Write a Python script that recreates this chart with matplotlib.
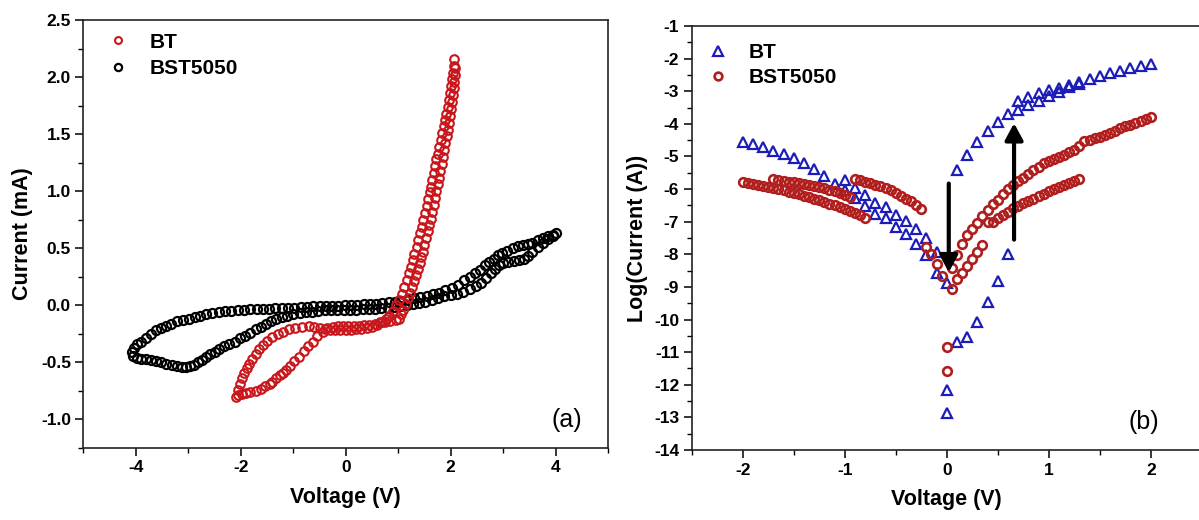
import numpy as np
import matplotlib
matplotlib.use("Agg")
import matplotlib.pyplot as plt
from matplotlib.ticker import MultipleLocator, FormatStrFormatter

plt.rcParams['font.family'] = ['Liberation Sans', 'DejaVu Sans']
plt.rcParams['axes.unicode_minus'] = False

# ---------------- panel (a): I-V loops, current in mA ----------------
# BT: lobe upper branch + flat part
bt_up_v = [-2.09, -2.05, -2.01, -1.97, -1.93, -1.89, -1.84, -1.78, -1.72, -1.65, -1.58, -1.50,
           -1.40, -1.30, -1.20, -1.08, -0.96, -0.84, -0.70, -0.60, -0.50, -0.40, -0.30, -0.20,
           -0.10, 0.00, 0.10, 0.20, 0.30, 0.40, 0.50, 0.60, 0.70, 0.77, 0.83]
bt_up_i = [-0.80, -0.74, -0.69, -0.64, -0.59, -0.55, -0.51, -0.47, -0.43, -0.38, -0.35, -0.31,
           -0.28, -0.25, -0.23, -0.21, -0.20, -0.19, -0.18, -0.19, -0.20, -0.21, -0.22, -0.22,
           -0.22, -0.22, -0.22, -0.21, -0.21, -0.20, -0.19, -0.17, -0.15, -0.12, -0.09]
# BT: lobe lower branch + flat part
bt_low_v = [-2.05, -1.98, -1.90, -1.82, -1.71, -1.62, -1.53, -1.45, -1.40, -1.33, -1.26, -1.20,
            -1.14, -1.06, -0.98, -0.89, -0.80, -0.72, -0.63, -0.54, -0.44, -0.35, -0.25, -0.15,
            -0.05, 0.05, 0.15, 0.25, 0.35, 0.45, 0.55, 0.65, 0.75, 0.85, 0.95]
bt_low_i = [-0.79, -0.78, -0.77, -0.76, -0.75, -0.73, -0.71, -0.69, -0.67, -0.64, -0.61, -0.59,
            -0.57, -0.53, -0.49, -0.45, -0.40, -0.36, -0.32, -0.27, -0.23, -0.20, -0.19, -0.18,
            -0.18, -0.18, -0.18, -0.18, -0.17, -0.17, -0.16, -0.15, -0.15, -0.14, -0.13]
# BT: rising branches at positive bias
bt_rise1_v = [0.90, 0.96, 1.02, 1.07, 1.12, 1.16, 1.20, 1.24, 1.28, 1.31, 1.35, 1.38, 1.42,
              1.45, 1.48, 1.51, 1.54, 1.57, 1.60, 1.63, 1.65, 1.68, 1.70, 1.73, 1.75, 1.78,
              1.81, 1.84, 1.87, 1.90, 1.92, 1.95, 1.97, 1.99, 2.01, 2.03, 2.04, 2.06, 2.07]
bt_rise1_i = [-0.05, 0.00, 0.05, 0.10, 0.16, 0.22, 0.28, 0.34, 0.40, 0.45, 0.51, 0.57, 0.63,
              0.69, 0.75, 0.81, 0.87, 0.93, 0.99, 1.04, 1.10, 1.16, 1.22, 1.28, 1.33, 1.39,
              1.45, 1.51, 1.57, 1.62, 1.68, 1.74, 1.80, 1.86, 1.92, 1.98, 2.04, 2.10, 2.16]
bt_rise2_v = [1.02, 1.06, 1.10, 1.14, 1.18, 1.22, 1.26, 1.30, 1.34, 1.38, 1.41, 1.44, 1.47,
              1.50, 1.53, 1.56, 1.59, 1.62, 1.65, 1.68, 1.70, 1.73, 1.75, 1.78, 1.80, 1.83,
              1.85, 1.88, 1.90, 1.93, 1.95, 1.97, 1.99, 2.01, 2.03, 2.05, 2.06, 2.07, 2.08, 2.09]
bt_rise2_i = [-0.12, -0.08, -0.04, 0.01, 0.06, 0.11, 0.16, 0.21, 0.27, 0.32, 0.37, 0.42, 0.47,
              0.53, 0.59, 0.65, 0.70, 0.76, 0.82, 0.88, 0.94, 1.00, 1.06, 1.12, 1.18, 1.24,
              1.30, 1.36, 1.42, 1.48, 1.54, 1.60, 1.66, 1.72, 1.78, 1.84, 1.90, 1.96, 2.02, 2.08]

# BST5050 loop
bst_top_v = [-4.07, -4.03, -3.98, -3.90, -3.81, -3.72, -3.62, -3.52, -3.43, -3.33, -3.22, -3.10,
             -2.99, -2.88, -2.77, -2.66, -2.54, -2.42, -2.30, -2.18, -2.06, -1.94, -1.82, -1.70,
             -1.58, -1.46, -1.34, -1.22, -1.10, -0.98, -0.86, -0.74, -0.62, -0.50, -0.38, -0.26,
             -0.14, -0.02, 0.10, 0.22, 0.34, 0.46, 0.58, 0.70, 0.82, 0.94, 1.06, 1.18]
bst_top_i = [-0.41, -0.37, -0.34, -0.32, -0.29, -0.25, -0.22, -0.20, -0.18, -0.16, -0.14, -0.13,
             -0.12, -0.10, -0.09, -0.08, -0.07, -0.06, -0.05, -0.05, -0.04, -0.04, -0.035, -0.03,
             -0.03, -0.03, -0.025, -0.02, -0.02, -0.02, -0.015, -0.015, -0.01, -0.01, -0.01, -0.01,
             -0.005, 0.0, 0.0, 0.005, 0.01, 0.01, 0.015, 0.02, 0.025, 0.03, 0.04, 0.05]
bst_bot_v = [-4.05, -3.98, -3.90, -3.81, -3.72, -3.62, -3.52, -3.42, -3.32, -3.22, -3.12, -3.04,
             -2.97, -2.90, -2.82, -2.74, -2.66, -2.58, -2.50, -2.41, -2.32, -2.22, -2.12, -2.02,
             -1.92, -1.82, -1.72, -1.62, -1.52, -1.42, -1.32, -1.22, -1.12, -1.00, -0.88, -0.76,
             -0.64, -0.52, -0.40, -0.28, -0.16, -0.04, 0.08, 0.20, 0.32, 0.44, 0.56, 0.68,
             0.80, 0.92, 1.04, 1.16]
bst_bot_i = [-0.44, -0.46, -0.47, -0.47, -0.48, -0.49, -0.50, -0.51, -0.52, -0.53, -0.54, -0.54,
             -0.53, -0.52, -0.50, -0.48, -0.45, -0.43, -0.41, -0.38, -0.36, -0.34, -0.32, -0.29,
             -0.27, -0.24, -0.21, -0.19, -0.16, -0.14, -0.12, -0.10, -0.09, -0.08, -0.07, -0.06,
             -0.055, -0.05, -0.045, -0.04, -0.04, -0.04, -0.04, -0.04, -0.035, -0.03, -0.03, -0.025,
             -0.02, -0.015, -0.01, 0.0]
bst_hi_v = [1.30, 1.42, 1.54, 1.66, 1.78, 1.90, 2.02, 2.14, 2.26, 2.36, 2.46, 2.56, 2.66, 2.74,
            2.82, 2.90, 2.98, 3.08, 3.18, 3.28, 3.38, 3.48, 3.56, 3.66, 3.76, 3.86, 3.96, 4.01]
bst_hi_i = [0.06, 0.07, 0.08, 0.10, 0.11, 0.13, 0.15, 0.18, 0.22, 0.25, 0.28, 0.31, 0.35, 0.38,
            0.41, 0.44, 0.46, 0.48, 0.50, 0.52, 0.53, 0.54, 0.55, 0.57, 0.59, 0.61, 0.62, 0.63]
bst_lo_v = [1.28, 1.40, 1.52, 1.64, 1.76, 1.88, 2.00, 2.12, 2.24, 2.36, 2.48, 2.58, 2.68, 2.76,
            2.84, 2.92, 3.00, 3.10, 3.20, 3.30, 3.40, 3.48, 3.56, 3.66, 3.76, 3.86, 3.96]
bst_lo_i = [0.01, 0.02, 0.03, 0.05, 0.06, 0.08, 0.09, 0.10, 0.12, 0.14, 0.17, 0.20, 0.24, 0.28,
            0.32, 0.35, 0.37, 0.38, 0.39, 0.40, 0.41, 0.43, 0.47, 0.51, 0.55, 0.58, 0.61]

# ---------------- panel (b): log(current) vs voltage ----------------
btl_out_v = [-2.0, -1.9, -1.8, -1.7, -1.6, -1.5, -1.4, -1.3, -1.2, -1.1, -1.0]
btl_out_l = [-4.55, -4.62, -4.71, -4.83, -4.92, -5.05, -5.19, -5.37, -5.59, -5.83, -5.72]
btl_a_v = [-1.0, -0.9, -0.8, -0.7, -0.6, -0.5, -0.4, -0.3, -0.2, -0.1, 0.0]
btl_a_l = [-6.02, -5.98, -6.18, -6.42, -6.56, -6.80, -6.98, -7.21, -7.51, -7.92, -8.87]
btl_b_v = [-0.9, -0.8, -0.7, -0.6, -0.5, -0.4, -0.3, -0.2, -0.1]
btl_b_l = [-6.26, -6.52, -6.75, -6.90, -7.15, -7.38, -7.69, -8.02, -8.56]
btl_lo_v = [0.0, 0.0, 0.1, 0.2, 0.3, 0.4, 0.5, 0.6]
btl_lo_l = [-12.15, -12.88, -10.68, -10.53, -10.07, -9.46, -8.81, -7.99]
btl_hi_v = [0.1, 0.2, 0.3, 0.4, 0.5, 0.6, 0.7, 0.8, 0.9, 1.0, 1.1, 1.2, 1.3, 1.4, 1.5, 1.6,
            1.7, 1.8, 1.9, 2.0]
btl_hi_l = [-5.42, -4.96, -4.55, -4.21, -3.95, -3.70, -3.30, -3.19, -3.06, -2.96, -2.89, -2.80,
            -2.72, -2.63, -2.53, -2.45, -2.37, -2.29, -2.22, -2.15]
btl_mid_v = [0.7, 0.8, 0.9, 1.0, 1.1, 1.2, 1.3]
btl_mid_l = [-3.58, -3.42, -3.29, -3.15, -3.01, -2.88, -2.78]

bstl_n1_v = [-2.00, -1.95, -1.90, -1.85, -1.80, -1.75, -1.70, -1.65, -1.60, -1.55, -1.50, -1.45,
             -1.40, -1.35, -1.30, -1.25, -1.20, -1.15, -1.10, -1.05, -1.00, -0.95, -0.90, -0.85,
             -0.80]
bstl_n1_l = [-5.78, -5.81, -5.84, -5.87, -5.90, -5.93, -5.97, -6.00, -6.04, -6.08, -6.12, -6.16,
             -6.21, -6.25, -6.30, -6.35, -6.40, -6.45, -6.50, -6.55, -6.61, -6.67, -6.74, -6.81,
             -6.88]
bstl_n2_v = [-1.70, -1.65, -1.60, -1.55, -1.50, -1.45, -1.40, -1.35, -1.30, -1.25, -1.20, -1.15,
             -1.10, -1.05, -1.00, -0.95]
bstl_n2_l = [-5.69, -5.72, -5.74, -5.77, -5.79, -5.82, -5.85, -5.88, -5.91, -5.94, -5.98, -6.02,
             -6.06, -6.11, -6.17, -6.23]
bstl_n3_v = [-0.90, -0.85, -0.80, -0.75, -0.70, -0.65, -0.60, -0.55, -0.50, -0.45, -0.40, -0.35,
             -0.30, -0.25]
bstl_n3_l = [-5.69, -5.72, -5.77, -5.82, -5.87, -5.92, -5.97, -6.04, -6.13, -6.21, -6.30, -6.38,
             -6.48, -6.62]
bstl_c_v = [-0.20, -0.15, -0.10, -0.05, 0.05, 0.0, 0.0]
bstl_c_l = [-7.78, -7.98, -8.29, -8.65, -9.05, -10.84, -11.58]
bstl_p1_v = [0.10, 0.15, 0.20, 0.25, 0.30, 0.35]
bstl_p1_l = [-8.75, -8.57, -8.36, -8.15, -7.93, -7.70]
bstl_p2_v = [0.05, 0.10, 0.15, 0.20, 0.25, 0.30, 0.35, 0.40, 0.45, 0.50, 0.55, 0.60, 0.65, 0.70,
             0.75, 0.80, 0.85, 0.90, 0.95, 1.00, 1.05, 1.10, 1.15, 1.20, 1.25, 1.30, 1.35, 1.40,
             1.45, 1.50, 1.55, 1.60, 1.65, 1.70, 1.75, 1.80, 1.85, 1.90, 1.95, 2.00]
bstl_p2_l = [-8.43, -8.02, -7.67, -7.41, -7.22, -7.03, -6.83, -6.63, -6.47, -6.32, -6.16, -6.01,
             -5.88, -5.76, -5.66, -5.55, -5.43, -5.31, -5.21, -5.15, -5.08, -5.02, -4.95, -4.87,
             -4.79, -4.69, -4.52, -4.48, -4.44, -4.39, -4.33, -4.27, -4.21, -4.14, -4.08, -4.02,
             -3.97, -3.91, -3.86, -3.80]
bstl_p3_v = [0.40, 0.45, 0.50, 0.55, 0.60, 0.65, 0.70, 0.75, 0.80, 0.85, 0.90, 0.95, 1.00, 1.05,
             1.10, 1.15, 1.20, 1.25, 1.30]
bstl_p3_l = [-7.00, -7.02, -6.90, -6.79, -6.69, -6.59, -6.51, -6.44, -6.37, -6.29, -6.21, -6.14,
             -6.07, -6.00, -5.94, -5.88, -5.82, -5.76, -5.68]

# arrows in panel (b): (voltage, start log, end log)
arrow_down = (0.02, -5.83, -8.55)
arrow_up = (0.66, -7.55, -3.98)

red_a = '#c8161b'
red_b = '#b01e1e'
blue = '#1c1cb8'

fig = plt.figure(figsize=(11.99, 5.2), dpi=100)
ax1 = fig.add_axes([0.0696, 0.1385, 0.4375, 0.823])
ax2 = fig.add_axes([0.5769, 0.1346, 0.4254, 0.8154])

# panel (a)
bt_v = np.concatenate([bt_up_v, bt_low_v, bt_rise1_v, bt_rise2_v])
bt_i = np.concatenate([bt_up_i, bt_low_i, bt_rise1_i, bt_rise2_i])
bst_v = np.concatenate([bst_top_v, bst_bot_v, bst_hi_v, bst_lo_v])
bst_i = np.concatenate([bst_top_i, bst_bot_i, bst_hi_i, bst_lo_i])
ax1.plot(bst_v, bst_i, 'o', ms=6.5, mfc='none', mec='black', mew=1.6, label='BST5050', zorder=2)
ax1.plot(bt_v, bt_i, 'o', ms=6.2, mfc='none', mec=red_a, mew=1.5, label='BT', zorder=3)

ax1.set_xlim(-5, 5)
ax1.set_ylim(-1.25, 2.5)
ax1.xaxis.set_major_locator(MultipleLocator(2))
ax1.xaxis.set_minor_locator(MultipleLocator(1))
ax1.yaxis.set_major_locator(MultipleLocator(0.5))
ax1.yaxis.set_minor_locator(MultipleLocator(0.25))
ax1.yaxis.set_major_formatter(FormatStrFormatter('%.1f'))
ax1.set_xlabel('Voltage (V)', fontsize=15.5, fontweight='bold', labelpad=8)
ax1.set_ylabel('Current (mA)', fontsize=15.5, fontweight='bold', labelpad=6)
ax1.text(0.922, 0.065, '(a)', transform=ax1.transAxes, fontsize=18, ha='center', va='center')
h1, l1 = ax1.get_legend_handles_labels()
ax1.legend(h1[::-1], l1[::-1], loc='upper left', bbox_to_anchor=(0.03, 0.99), frameon=False,
           borderaxespad=0, handlelength=1.0, handletextpad=1.0, labelspacing=0.35,
           markerscale=0.8, prop={'size': 15, 'weight': 'bold'})

# panel (b)
btl_v = np.concatenate([btl_out_v, btl_a_v, btl_b_v, btl_lo_v, btl_hi_v, btl_mid_v])
btl_l = np.concatenate([btl_out_l, btl_a_l, btl_b_l, btl_lo_l, btl_hi_l, btl_mid_l])
bstl_v = np.concatenate([bstl_n1_v, bstl_n2_v, bstl_n3_v, bstl_c_v, bstl_p1_v, bstl_p2_v, bstl_p3_v])
bstl_l = np.concatenate([bstl_n1_l, bstl_n2_l, bstl_n3_l, bstl_c_l, bstl_p1_l, bstl_p2_l, bstl_p3_l])
ax2.plot(btl_v, btl_l, '^', ms=7.5, mfc='none', mec=blue, mew=1.6, label='BT', zorder=3)
ax2.plot(bstl_v, bstl_l, 'o', ms=6.2, mfc='none', mec=red_b, mew=1.9, label='BST5050', zorder=3)
for v, y0, y1 in (arrow_down, arrow_up):
    ax2.annotate('', xy=(v, y1), xytext=(v, y0),
                 arrowprops=dict(arrowstyle='-|>,head_length=0.5,head_width=0.27',
                                 lw=3, color='black', shrinkA=0, shrinkB=0, mutation_scale=20),
                 zorder=4)

ax2.set_xlim(-2.5, 2.5)
ax2.set_ylim(-14, -1)
ax2.xaxis.set_major_locator(MultipleLocator(1))
ax2.xaxis.set_minor_locator(MultipleLocator(0.5))
ax2.yaxis.set_major_locator(MultipleLocator(1))
ax2.yaxis.set_minor_locator(MultipleLocator(0.5))
ax2.set_xlabel('Voltage (V)', fontsize=15.5, fontweight='bold', labelpad=8)
ax2.set_ylabel('Log(Current (A))', fontsize=15.5, fontweight='bold', labelpad=4)
ax2.text(0.887, 0.066, '(b)', transform=ax2.transAxes, fontsize=18, ha='center', va='center')
ax2.legend(loc='upper left', bbox_to_anchor=(0.015, 0.98), frameon=False,
           borderaxespad=0, handlelength=1.0, handletextpad=0.95, labelspacing=0.3,
           markerscale=0.9, prop={'size': 15, 'weight': 'bold'})

for ax in (ax1, ax2):
    for s in ax.spines.values():
        s.set_linewidth(1.2)
        s.set_color('#222222')
    ax.tick_params(which='major', direction='out', length=6, width=1.1, labelsize=12.5, pad=3)
    ax.tick_params(which='minor', direction='out', length=3.5, width=1.0)
    for lab in ax.get_xticklabels() + ax.get_yticklabels():
        lab.set_fontweight('bold')

fig.savefig('out.png', dpi=100)
